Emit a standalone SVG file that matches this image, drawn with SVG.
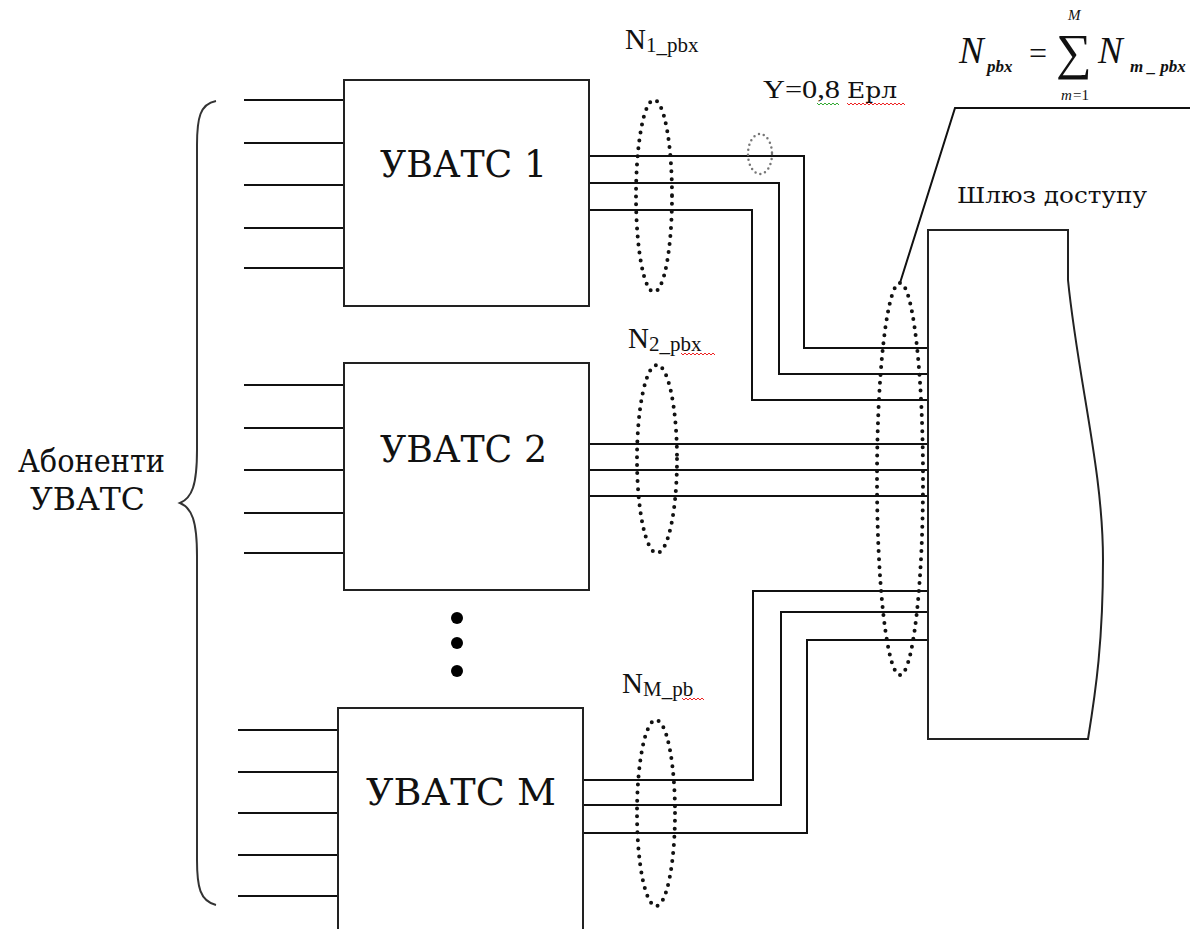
<svg xmlns="http://www.w3.org/2000/svg" width="1197" height="929" viewBox="0 0 1197 929">
<style>
.box{fill:#fff;stroke:#222;stroke-width:2}
.ln{fill:none;stroke:#111;stroke-width:2}
.dot{fill:none;stroke:#111;stroke-width:4;stroke-linecap:round;stroke-dasharray:0 8}
.dot2{fill:none;stroke:#777;stroke-width:2.5;stroke-linecap:round;stroke-dasharray:0 5}
.t{font-family:'Liberation Serif','DejaVu Serif',serif;fill:#111}
.c{font-family:'DejaVu Serif','Liberation Serif',serif;fill:#111}
.i{font-family:'Liberation Serif','DejaVu Serif',serif;font-style:italic;fill:#111}
.sq{fill:none;stroke-width:1}
</style>
<rect width="1197" height="929" fill="#fff"/>
<g id="connectors">
<path class="ln" d="M244 100H344M244 143H344M244 185H344M244 228H344M244 268H344"/>
<path class="ln" d="M244 385H344M244 428H344M244 470H344M244 513H344M244 553H344"/>
<path class="ln" d="M238 730H338M238 772H338M238 813H338M238 855H338M238 896H338"/>
<path class="ln" d="M589 156H804V348H930"/>
<path class="ln" d="M589 183H779V374H930"/>
<path class="ln" d="M589 210H752V400H930"/>
<path class="ln" d="M589 444H930M589 470H930M589 496H930"/>
<path class="ln" d="M583 780H753V591H930"/>
<path class="ln" d="M583 805H781V612H932"/>
<path class="ln" d="M583 833H807V640H928"/>
<path class="ln" stroke-width="1.5" d="M900 283L955 108H1190"/>
</g>
<g id="brace">
<path fill="none" stroke="#333" stroke-width="2" d="M216 101C200 104 197 118 197 145V450C197 485 192 498 180 503C192 508 197 521 197 556V860C197 887 200 901 216 905"/>
<text class="c" x="18" y="472" font-size="31" textLength="147" lengthAdjust="spacingAndGlyphs">Абоненти</text>
<text class="c" x="30" y="510" font-size="31" textLength="115" lengthAdjust="spacingAndGlyphs">УВАТС</text>
</g>
<g id="node-uvats1">
<rect class="box" x="344" y="80" width="245" height="226"/>
<text class="c" x="380" y="177" font-size="37" textLength="167" lengthAdjust="spacingAndGlyphs">УВАТС 1</text>
</g>
<g id="node-uvats2">
<rect class="box" x="344" y="363" width="245" height="227"/>
<text class="c" x="380" y="462" font-size="37" textLength="167" lengthAdjust="spacingAndGlyphs">УВАТС 2</text>
</g>
<g id="dots">
<circle cx="457" cy="618" r="6" fill="#000"/>
<circle cx="457" cy="643" r="6" fill="#000"/>
<circle cx="457" cy="671" r="6" fill="#000"/>
</g>
<g id="node-uvatsM">
<rect class="box" x="338" y="708" width="245" height="240"/>
<text class="c" x="366" y="805" font-size="37" textLength="190" lengthAdjust="spacingAndGlyphs">УВАТС M</text>
</g>
<g id="node-gateway">
<path class="box" d="M928 230H1068V280C1078 380 1103 470 1103 560C1103 640 1096 690 1088 739H928Z"/>
<text class="c" x="957" y="203" font-size="23" textLength="190" lengthAdjust="spacingAndGlyphs">Шлюз доступу</text>
</g>
<g id="bundles">
<ellipse class="dot" cx="654" cy="196" rx="18" ry="96"/>
<ellipse class="dot2" cx="760" cy="154" rx="12" ry="20"/>
<ellipse class="dot" cx="657" cy="459" rx="20" ry="94"/>
<ellipse class="dot" cx="656" cy="813" rx="19" ry="93"/>
<ellipse class="dot" cx="900" cy="479" rx="23" ry="196"/>
</g>
<g id="labels">
<text class="t" x="625" y="49" font-size="29">N<tspan font-size="21" dy="3">1_pbx</tspan></text>
<text class="t" x="628" y="348" font-size="29">N<tspan font-size="21" dy="3">2_pbx</tspan></text>
<text class="t" x="622" y="693" font-size="29">N<tspan font-size="21" dy="3">M_pb</tspan></text>
<text class="t" x="763" y="98" font-size="26"><tspan textLength="77" lengthAdjust="spacingAndGlyphs">Y=0,8</tspan> <tspan class="c" x="847" font-size="23" textLength="50" lengthAdjust="spacingAndGlyphs">Ерл</tspan></text>
<path class="sq" stroke="#3a3" d="M817 103l2 2 2-2 2 2 2-2 2 2 2-2 2 2 2-2 2 2 2-2 2 2"/>
<path class="sq" stroke="#e22" d="M847 103l2 2 2-2 2 2 2-2 2 2 2-2 2 2 2-2 2 2 2-2 2 2 2-2 2 2 2-2 2 2 2-2 2 2 2-2 2 2 2-2 2 2 2-2 2 2 2-2 2 2 2-2 2 2 2-2 2 2"/>
<path class="sq" stroke="#e22" d="M681 353l2 2 2-2 2 2 2-2 2 2 2-2 2 2 2-2 2 2 2-2 2 2 2-2 2 2 2-2 2 2 2-2 2 2"/>
<path class="sq" stroke="#e22" d="M682 698l2 2 2-2 2 2 2-2 2 2 2-2 2 2 2-2 2 2 2-2 2 2"/>
<text class="i" x="959" y="63" font-size="37">N</text>
<text class="i" x="987" y="72" font-size="17" font-weight="bold">pbx</text>
<text class="t" x="1029" y="64" font-size="32">=</text>
<text class="t" x="1056" y="69" font-size="50">∑</text>
<text class="i" x="1068" y="20" font-size="15">M</text>
<text class="i" x="1061" y="100" font-size="15">m</text>
<text class="t" x="1073" y="100" font-size="15">=1</text>
<text class="i" x="1098" y="63" font-size="37">N</text>
<text class="i" x="1130" y="72" font-size="17" font-weight="bold">m _ pbx</text>
</g>
</svg>
